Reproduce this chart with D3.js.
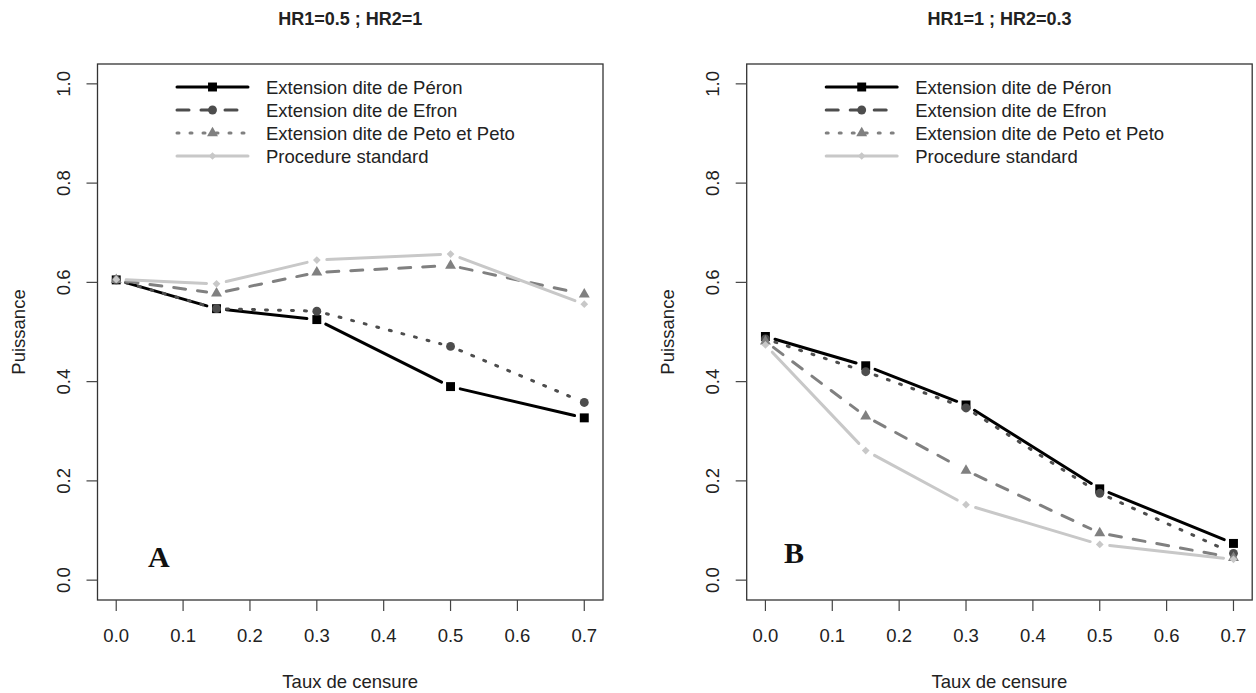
<!DOCTYPE html>
<meta charset="UTF-8">
<style>
body { margin: 0; background: #fff; }
svg text { font-family: "Liberation Sans", Arial, sans-serif; fill: #222; }
.box { fill: none; stroke: #333; stroke-width: 1.3px; }
.tick { stroke: #444; stroke-width: 1.2px; }
</style>
<body>
<svg id="chart" width="1256" height="693"></svg>

<script src="https://cdn.jsdelivr.net/npm/d3@7"></script>
<script>

// censoring rates (x values)
var tauxCensure = [0, 0.15, 0.3, 0.5, 0.7];

// panel A : HR1=0.5 ; HR2=1
var aPeron    = [0.605, 0.547, 0.525, 0.390, 0.327];
var aEfron    = [0.605, 0.547, 0.542, 0.471, 0.358];
var aPeto     = [0.605, 0.578, 0.620, 0.634, 0.576];
var aStandard = [0.606, 0.597, 0.645, 0.657, 0.556];

// panel B : HR1=1 ; HR2=0.3
var bPeron    = [0.491, 0.432, 0.353, 0.184, 0.074];
var bEfron    = [0.486, 0.420, 0.347, 0.175, 0.054];
var bPeto     = [0.481, 0.330, 0.221, 0.095, 0.045];
var bStandard = [0.474, 0.261, 0.152, 0.072, 0.042];

var seriesNames = ["Extension dite de Péron", "Extension dite de Efron",
                   "Extension dite de Peto et Peto", "Procedure standard"];
var xTicks = [0, 0.1, 0.2, 0.3, 0.4, 0.5, 0.6, 0.7];
var yTicks = [0, 0.2, 0.4, 0.6, 0.8, 1.0];

// styles (line type in the plot differs from the legend for Efron / Peto, as in the figure)
var DASHED = "12,12", DOTTED = "2,11";
var styles = [
  {color: "#000",    dash: null,   legendDash: null,   shape: "square"},
  {color: "#4d4d4d", dash: DOTTED, legendDash: DASHED, shape: "circle"},
  {color: "#808080", dash: DASHED, legendDash: DOTTED, shape: "triangle"},
  {color: "#c8c8c8", dash: null,   legendDash: null,   shape: "diamond"}
];

var panels = [
  {left: 97.5,  title: "HR1=0.5 ; HR2=1", letter: "A", lx: 148, ly: 567,
   values: [aPeron, aEfron, aPeto, aStandard]},
  {left: 746.7, title: "HR1=1 ; HR2=0.3", letter: "B", lx: 784, ly: 563,
   values: [bPeron, bEfron, bPeto, bStandard]}
];

var boxW = 505.5, plotTop = 64, plotBottom = 600, gap = 10, fs = "18.5px";
var svg = d3.select("#chart");

function symbolPath(shape) {
  if (shape == "square") return d3.symbol(d3.symbolSquare, 80)();
  if (shape == "circle") return d3.symbol(d3.symbolCircle, 62)();
  if (shape == "triangle") return d3.symbol(d3.symbolTriangle, 52)();
  return d3.symbol(d3.symbolSquare, 30)();
}

function drawMarker(g, shape, color, x, y) {
  g.append("path")
    .attr("d", symbolPath(shape))
    .attr("fill", color)
    .attr("transform", "translate(" + x + "," + y + ")" + (shape == "diamond" ? " rotate(45)" : ""));
}

panels.forEach(function(p) {
  var g = svg.append("g");
  var x = d3.scaleLinear().domain([-0.028, 0.728]).range([p.left, p.left + boxW]);
  var y = d3.scaleLinear().domain([-0.04, 1.04]).range([plotBottom, plotTop]);

  // title
  g.append("text")
    .attr("x", p.left + boxW / 2).attr("y", 25)
    .attr("text-anchor", "middle")
    .style("font-weight", "bold").style("font-size", "18px")
    .text(p.title);

  // box
  g.append("rect").attr("class", "box")
    .attr("x", p.left).attr("y", plotTop)
    .attr("width", boxW).attr("height", plotBottom - plotTop);

  // x axis
  xTicks.forEach(function(t) {
    g.append("line").attr("class", "tick")
      .attr("x1", x(t)).attr("x2", x(t)).attr("y1", plotBottom).attr("y2", plotBottom + 11);
    g.append("text")
      .attr("x", x(t)).attr("y", 641.5)
      .attr("text-anchor", "middle").style("font-size", fs)
      .text(d3.format(".1f")(t));
  });
  g.append("text")
    .attr("x", p.left + boxW / 2).attr("y", 688)
    .attr("text-anchor", "middle").style("font-size", fs)
    .text("Taux de censure");

  // y axis
  yTicks.forEach(function(t) {
    g.append("line").attr("class", "tick")
      .attr("x1", p.left - 11).attr("x2", p.left).attr("y1", y(t)).attr("y2", y(t));
    g.append("text")
      .attr("transform", "translate(" + (p.left - 34 + 6.5) + "," + y(t) + ") rotate(-90)")
      .attr("text-anchor", "middle").style("font-size", fs)
      .text(d3.format(".1f")(t));
  });
  g.append("text")
    .attr("transform", "translate(" + (p.left - 79.5 + 6.5) + "," + (plotTop + plotBottom) / 2 + ") rotate(-90)")
    .attr("text-anchor", "middle").style("font-size", fs)
    .text("Puissance");

  // series: lines with gaps around the points (type = "b")
  p.values.forEach(function(vals, k) {
    var st = styles[k];
    var pts = vals.map(function(v, i) { return [x(tauxCensure[i]), y(v)]; });
    for (var i = 0; i < pts.length - 1; i++) {
      var a = pts[i], b = pts[i + 1];
      var dx = b[0] - a[0], dy = b[1] - a[1], len = Math.sqrt(dx * dx + dy * dy);
      if (len <= 2 * gap) continue;
      var ux = dx / len, uy = dy / len;
      g.append("line")
        .attr("x1", a[0] + ux * gap).attr("y1", a[1] + uy * gap)
        .attr("x2", b[0] - ux * gap).attr("y2", b[1] - uy * gap)
        .attr("stroke", st.color).attr("stroke-width", 3)
        .attr("stroke-linecap", "round")
        .attr("stroke-dasharray", st.dash);
    }
    pts.forEach(function(pt) { drawMarker(g, st.shape, st.color, pt[0], pt[1]); });
  });

  // legend
  var legX0 = p.left + 79.5, legX1 = p.left + 150.5, legT = p.left + 168.5;
  seriesNames.forEach(function(name, k) {
    var st = styles[k], ly = 87 + k * 23;
    g.append("line")
      .attr("x1", legX0).attr("x2", legX1).attr("y1", ly).attr("y2", ly)
      .attr("stroke", st.color).attr("stroke-width", 3)
      .attr("stroke-linecap", "round")
      .attr("stroke-dasharray", st.legendDash);
    drawMarker(g, st.shape, st.color, (legX0 + legX1) / 2, ly);
    g.append("text")
      .attr("x", legT).attr("y", ly + 6.5)
      .style("font-size", fs)
      .text(name);
  });

  // panel letter
  g.append("text")
    .attr("x", p.lx).attr("y", p.ly)
    .style("font-family", "'Liberation Serif', 'Times New Roman', serif")
    .style("font-weight", "bold").style("font-size", "30px")
    .style("fill", "#111")
    .text(p.letter);
});

</script>
</body>
